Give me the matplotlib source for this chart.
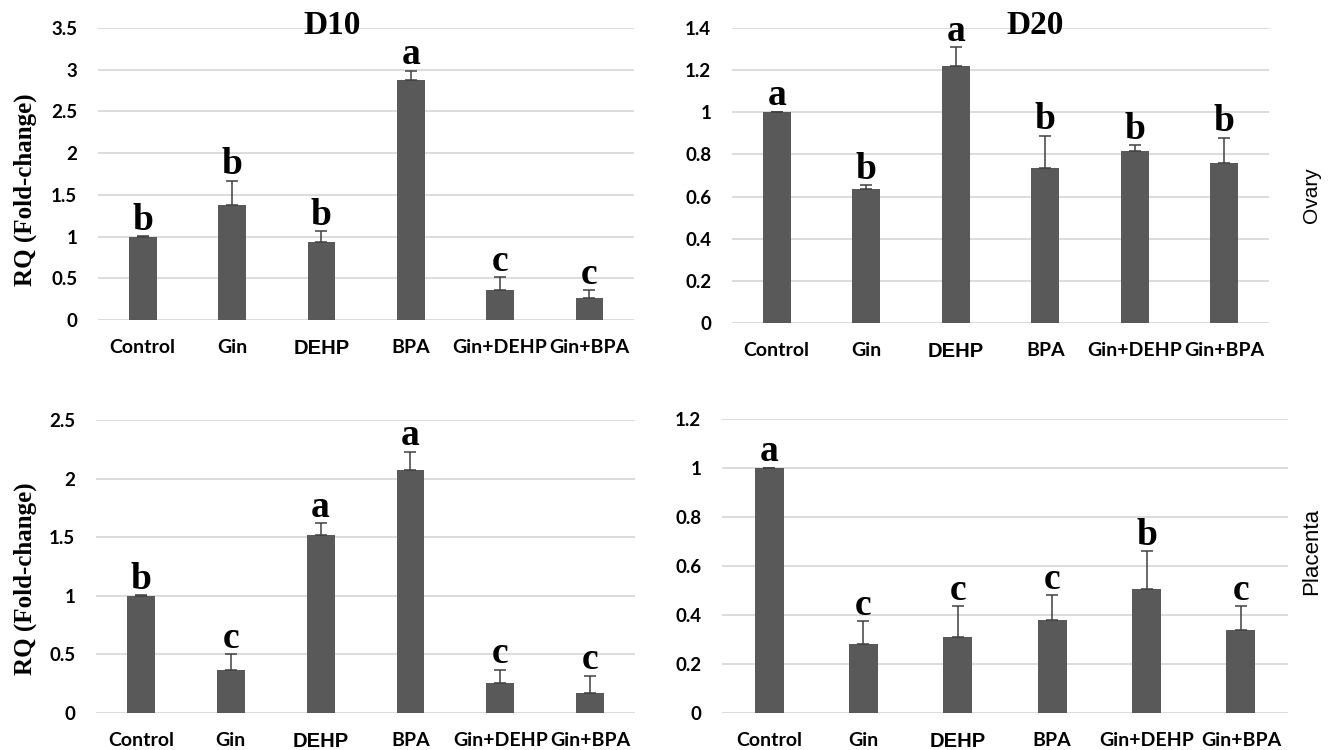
import matplotlib
matplotlib.use("Agg")
import matplotlib.pyplot as plt

groups = ["Control", "Gin", "DEHP", "BPA", "Gin+DEHP", "Gin+BPA"]

# Ovary, day 10
ovary_d10 = [1.00, 1.38, 0.93, 2.88, 0.36, 0.26]
ovary_d10_err = [0.01, 0.29, 0.14, 0.11, 0.15, 0.10]
ovary_d10_sig = ["b", "b", "b", "a", "c", "c"]

# Ovary, day 20
ovary_d20 = [1.00, 0.635, 1.22, 0.735, 0.815, 0.76]
ovary_d20_err = [0.003, 0.02, 0.09, 0.155, 0.03, 0.12]
ovary_d20_sig = ["a", "b", "a", "b", "b", "b"]

# Placenta, day 10
placenta_d10 = [1.00, 0.37, 1.52, 2.07, 0.26, 0.17]
placenta_d10_err = [0.005, 0.13, 0.10, 0.16, 0.11, 0.15]
placenta_d10_sig = ["b", "c", "a", "a", "c", "c"]

# Placenta, day 20
placenta_d20 = [1.00, 0.28, 0.31, 0.38, 0.505, 0.34]
placenta_d20_err = [0.002, 0.095, 0.125, 0.10, 0.155, 0.095]
placenta_d20_sig = ["a", "c", "c", "c", "b", "c"]

y_ticks_tl = [0, 0.5, 1, 1.5, 2, 2.5, 3, 3.5]
y_ticks_tr = [0, 0.2, 0.4, 0.6, 0.8, 1, 1.2, 1.4]
y_ticks_bl = [0, 0.5, 1, 1.5, 2, 2.5]
y_ticks_br = [0, 0.2, 0.4, 0.6, 0.8, 1, 1.2]

BAR = "#595959"
GRID = "#d9d9d9"
ERR = "#404040"
SERIF = "Liberation Serif"
SANS = "Lato"

fig = plt.figure(figsize=(13.36, 7.5), dpi=100)
fig.patch.set_facecolor("white")


def fmt(v):
    return f"{v:g}"


def panel(rect, vals, errs, sigs, ticks):
    ax = fig.add_axes(rect)
    x = list(range(len(groups)))
    ax.bar(x, vals, width=0.31, color=BAR, zorder=3)
    ax.errorbar(x, vals, yerr=[[0] * len(errs), errs], fmt="none",
                ecolor=ERR, elinewidth=1.1, capsize=4.5, capthick=1.1,
                zorder=4)
    for xi, v, e, s in zip(x, vals, errs, sigs):
        ax.annotate(s, (xi, v + e), xytext=(0, 4.5),
                    textcoords="offset points", ha="center", va="baseline",
                    fontfamily=SERIF, fontweight="bold", fontsize=27,
                    zorder=5)
    ax.set_xlim(-0.5, len(groups) - 0.5)
    ax.set_ylim(ticks[0], ticks[-1])
    ax.set_yticks(ticks)
    ax.set_yticklabels([fmt(t) for t in ticks])
    ax.set_xticks(x)
    ax.set_xticklabels(groups)
    for lab in ax.get_xticklabels():
        if lab.get_text() == "DEHP":
            lab.set_fontfamily("Liberation Sans")
            lab.set_fontsize(14.5)
        else:
            lab.set_fontfamily(SANS)
            lab.set_fontsize(14)
        lab.set_fontweight("bold")
    for lab in ax.get_yticklabels():
        lab.set_fontfamily(SANS)
        lab.set_fontweight("bold")
        lab.set_fontsize(13.5)
    ax.tick_params(axis="both", length=0)
    ax.tick_params(axis="y", pad=15)
    ax.tick_params(axis="x", pad=14)
    for sp in ax.spines.values():
        sp.set_visible(False)
    ax.yaxis.grid(True, color=GRID, linewidth=1.3, zorder=0)
    ax.set_axisbelow(True)
    ax.set_facecolor("none")
    return ax


ax1 = panel([0.0734, 0.5733, 0.4012, 0.3893], ovary_d10, ovary_d10_err,
            ovary_d10_sig, y_ticks_tl)
ax2 = panel([0.5479, 0.5693, 0.4019, 0.3933], ovary_d20, ovary_d20_err,
            ovary_d20_sig, y_ticks_tr)
ax3 = panel([0.0719, 0.0493, 0.4034, 0.3907], placenta_d10, placenta_d10_err,
            placenta_d10_sig, y_ticks_bl)
ax4 = panel([0.5404, 0.0493, 0.4237, 0.3920], placenta_d20, placenta_d20_err,
            placenta_d20_sig, y_ticks_br)

ax1.text(0.437, 1.01, "D10", transform=ax1.transAxes, ha="center",
         va="center", fontfamily=SERIF, fontweight="bold", fontsize=24)
ax2.text(0.564, 1.01, "D20", transform=ax2.transAxes, ha="center",
         va="center", fontfamily=SERIF, fontweight="bold", fontsize=24)

for yc in (0.747, 0.229):
    fig.text(0.0187, yc, "RQ (Fold-change)", rotation=90, ha="center",
             va="center", fontfamily=SERIF, fontweight="bold", fontsize=18)

fig.text(0.982, 0.74, "Ovary", rotation=90, ha="center", va="center",
         fontfamily="Liberation Sans", fontsize=15)
fig.text(0.982, 0.265, "Placenta", rotation=90, ha="center", va="center",
         fontfamily="Liberation Sans", fontsize=16)

fig.savefig("out.png", dpi=100, facecolor="white")
